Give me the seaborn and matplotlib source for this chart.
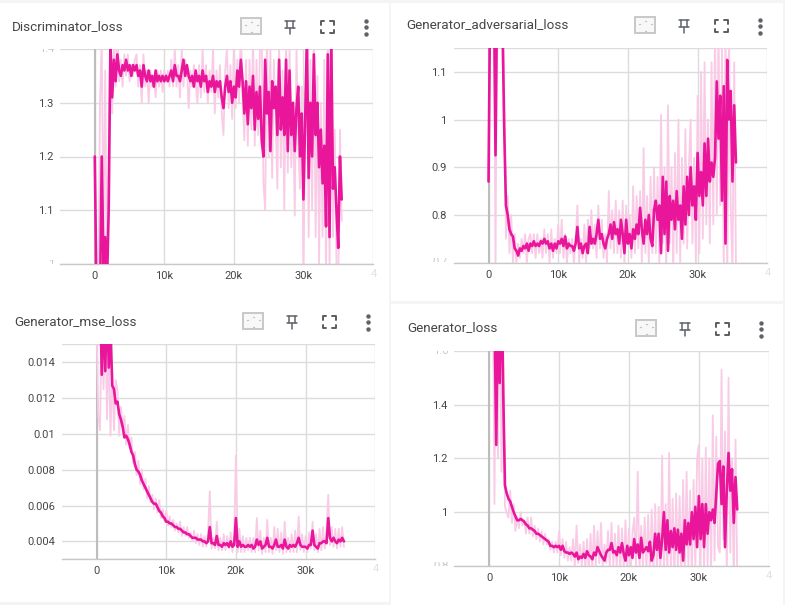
import numpy as np
import matplotlib
matplotlib.use('Agg')
import matplotlib.pyplot as plt
from matplotlib.patches import FancyBboxPatch, Rectangle
from matplotlib.transforms import Bbox
import seaborn as sns

# values, one sample every 250 steps
STEP = 250

disc_smooth = [1.2,0.94,0.9,0.93,1.2,1.0,1.05,0.96,1.1,1.41,1.31,1.38,
    1.34,1.39,1.36,1.35,1.37,1.36,1.38,1.36,1.37,1.35,1.37,1.36,
    1.37,1.35,1.36,1.33,1.37,1.35,1.34,1.36,1.34,1.35,1.33,1.36,
    1.34,1.35,1.34,1.35,1.34,1.35,1.34,1.35,1.36,1.34,1.37,1.35,
    1.35,1.34,1.36,1.38,1.35,1.37,1.35,1.34,1.35,1.33,1.36,1.34,
    1.35,1.33,1.36,1.34,1.35,1.32,1.34,1.33,1.35,1.32,1.34,1.33,
    1.34,1.31,1.29,1.33,1.35,1.32,1.34,1.30,1.33,1.31,1.36,1.33,
    1.38,1.34,1.28,1.34,1.26,1.33,1.29,1.35,1.25,1.32,1.27,1.33,
    1.23,1.2,1.38,1.28,1.32,1.21,1.34,1.29,1.33,1.24,1.38,1.25,
    1.31,1.24,1.38,1.21,1.36,1.24,1.3,1.21,1.29,1.33,1.2,1.28,
    1.12,1.27,1.42,1.16,1.3,1.2,1.39,1.24,1.3,1.18,1.25,1.15,
    1.22,1.07,1.39,1.05,1.42,1.14,1.18,1.1,1.03,1.2,1.12]
disc_raw = [1.2,0.9,0.92,1.3,1.42,1.05,1.36,0.95,1.2,1.45,1.28,1.42,
    1.33,1.43,1.34,1.38,1.33,1.39,1.35,1.39,1.34,1.37,1.35,1.38,
    1.39,1.33,1.37,1.3,1.39,1.33,1.36,1.3,1.36,1.33,1.35,1.31,
    1.36,1.33,1.36,1.32,1.36,1.34,1.36,1.33,1.38,1.33,1.4,1.33,
    1.37,1.31,1.4,1.33,1.38,1.36,1.29,1.36,1.33,1.37,1.34,1.3,
    1.37,1.31,1.4,1.32,1.37,1.3,1.36,1.32,1.4,1.28,1.36,1.31,
    1.37,1.28,1.24,1.36,1.4,1.29,1.37,1.27,1.41,1.29,1.38,1.3,
    1.44,1.31,1.23,1.38,1.22,1.38,1.25,1.42,1.22,1.38,1.24,1.4,
    1.42,1.15,1.1,1.43,1.2,1.4,1.16,1.38,1.27,1.14,1.42,1.18,
    1.36,1.1,1.43,1.17,1.4,1.18,1.3,1.09,1.4,1.22,1.14,1.33,
    0.97,1.3,1.45,1.05,1.38,1.1,1.45,1.05,1.35,1.0,1.3,1.05,
    1.38,0.96,1.45,0.98,1.45,1.05,1.25,1.0,0.95,1.25,1.08]

adv_smooth = [.87,1.3,1.2,1.3,.925,1.3,1.3,1.3,1.2,.98,.82,.8,
    .77,.76,.755,.73,.725,.715,.73,.725,.735,.73,.74,.725,
    .74,.735,.745,.735,.74,.735,.745,.74,.75,.74,.745,.73,
    .74,.725,.74,.73,.745,.74,.75,.735,.755,.73,.74,.735,
    .735,.725,.74,.775,.73,.74,.72,.735,.74,.72,.775,.74,
    .75,.74,.76,.79,.75,.76,.74,.73,.75,.76,.78,.75,
    .785,.76,.77,.74,.79,.76,.72,.79,.74,.76,.73,.77,
    .75,.78,.76,.815,.77,.74,.79,.76,.80,.75,.735,.81,
    .83,.79,.82,.72,.88,.76,.87,.725,.84,.79,.83,.77,
    .85,.79,.82,.75,.86,.78,.88,.80,.90,.82,.86,.79,
    .93,.84,.89,.82,.95,.84,.96,.87,.91,.88,.92,1.08,
    .96,1.05,.83,1.07,.74,1.125,1.0,1.06,.87,1.03,.91]
adv_raw = [.87,1.4,1.3,1.4,.68,1.4,1.3,1.4,1.3,1.05,.75,.84,
    .72,.8,.7,.76,.7,.74,.71,.75,.72,.76,.7,.75,
    .76,.72,.76,.71,.76,.72,.75,.71,.77,.72,.76,.7,
    .77,.71,.75,.72,.78,.72,.79,.71,.76,.7,.75,.72,
    .75,.7,.75,.82,.7,.75,.71,.78,.7,.79,.73,.81,
    .73,.78,.71,.82,.73,.79,.71,.76,.7,.85,.73,.81,
    .72,.83,.72,.81,.71,.83,.7,.82,.74,.8,.71,.86,
    .72,.84,.73,.85,.7,.94,.72,.84,.7,.88,.72,.9,
    .72,.88,.7,1.01,.74,.9,.68,1.03,.74,.9,.68,.93,
    .72,1.0,.7,.92,.74,.98,.73,.9,1.0,.74,.92,.7,
    1.05,.72,1.1,.75,1.12,.78,1.0,.74,1.12,.78,1.2,.8,
    1.2,.82,1.15,.68,1.2,.65,1.2,.82,.68,1.12,.7]

mse_smooth = [.018,.018,.018,.0133,.017,.0135,.018,.0137,.016,.0127,.0125,.0117,
    .0118,.0111,.0108,.0104,.0098,.0099,.0097,.0094,.009,.0088,.0083,.008,
    .0079,.0077,.0074,.0072,.007,.0068,.0066,.0064,.0062,.0061,.0061,.0059,
    .0057,.0056,.0054,.0053,.0051,.0051,.005,.005,.0049,.0048,.0048,.0047,
    .0047,.0046,.0045,.0045,.0044,.0044,.0043,.0042,.0042,.0042,.0041,.0041,
    .0041,.004,.004,.0039,.004,.0048,.0039,.0039,.0038,.0043,.0038,.0038,
    .0037,.0039,.0038,.0039,.0037,.004,.0037,.0038,.0053,.0037,.004,.0037,
    .0038,.0037,.0037,.0038,.0037,.0038,.0036,.0037,.0041,.0038,.004,.0036,
    .0037,.0038,.0042,.0037,.0037,.0036,.0038,.0041,.0037,.0037,.0038,.0036,
    .0041,.0037,.0036,.0038,.0037,.0038,.0037,.0039,.0042,.0038,.0037,.0037,
    .0037,.0036,.0038,.0038,.0046,.0038,.0037,.0036,.0039,.0039,.004,.004,
    .0039,.0053,.0042,.004,.0042,.004,.0039,.0041,.004,.0042,.004]
mse_raw = [.016,.011,.0102,.017,.0125,.0165,.0108,.015,.0099,.0135,.0102,.013,
    .0125,.0099,.0115,.0103,.011,.0094,.0105,.0092,.0098,.0084,.009,.0077,
    .0085,.0072,.008,.0069,.0075,.0064,.0071,.0062,.0066,.0058,.0064,.0056,
    .0063,.0053,.0058,.0051,.0057,.0049,.0054,.0048,.0052,.0046,.005,.0045,
    .0051,.0043,.0048,.0043,.0048,.0042,.0045,.004,.0046,.0039,.0044,.0038,
    .0044,.0037,.0043,.0037,.0045,.0068,.0036,.0042,.0036,.0051,.0035,.0042,
    .0035,.0044,.0035,.0043,.0036,.0045,.0034,.0044,.0088,.0034,.0047,.0034,
    .0043,.0034,.0042,.0035,.0042,.0034,.0042,.0034,.0053,.0035,.0046,.0033,
    .0042,.0034,.0052,.0034,.0042,.0033,.0048,.0035,.0047,.0034,.0045,.0033,
    .0051,.0034,.0042,.0034,.0044,.0034,.0046,.0034,.0054,.0035,.0044,.0034,
    .0043,.0034,.0045,.0036,.0051,.0035,.0044,.0034,.0047,.0035,.0048,.0036,
    .0046,.0066,.0038,.0048,.0037,.0047,.0036,.0047,.0037,.0048,.0037]

gen_smooth = [1.9,1.9,1.9,1.75,1.25,1.8,1.48,1.9,1.45,1.1,1.07,1.05,
    1.04,1.02,1.0,.985,.97,.97,.975,.97,.965,.955,.95,.94,
    .94,.935,.93,.92,.92,.915,.91,.905,.9,.895,.89,.875,
    .875,.87,.875,.87,.875,.86,.875,.855,.85,.85,.845,.85,
    .845,.835,.85,.825,.835,.83,.845,.83,.855,.84,.835,.825,
    .85,.84,.87,.855,.84,.83,.82,.85,.86,.86,.885,.85,
    .855,.84,.87,.85,.885,.845,.82,.875,.84,.87,.83,.9,
    .85,.88,.83,.905,.85,.86,.87,.855,.89,.82,.84,.92,
    .86,.92,.83,.9,1.0,.86,.97,.85,.93,.87,.94,.86,
    .935,.85,.92,.82,.97,.88,.96,.88,1.0,.9,1.02,.87,
    1.06,.9,1.03,.87,1.03,.92,1.0,.97,1.01,.96,1.07,1.18,
    1.19,1.03,1.17,.87,1.08,1.22,1.08,1.16,.96,1.13,1.01]
gen_raw = [1.9,1.9,1.9,1.03,1.9,1.2,1.9,1.15,1.6,1.02,1.0,.98,
    1.08,.96,1.03,.93,.98,.94,1.0,.95,.97,.92,.98,.92,
    .98,.91,.95,.9,.94,.89,.93,.88,.92,.88,.9,.86,
    .89,.85,.89,.85,.93,.84,.9,.83,.89,.82,.87,.82,
    .9,.8,.95,.81,.88,.8,.89,.79,.9,.78,.92,.79,
    .95,.8,.93,.81,.96,.8,.88,.81,.93,.79,.96,.8,
    .92,.79,.95,.78,.94,.78,.97,.79,.94,.77,.92,.98,
    .8,1.15,.78,.95,.79,.98,.78,.99,.77,1.01,.78,1.03,
    .76,1.02,.77,1.21,.76,1.03,.75,1.22,.76,1.05,.74,1.07,
    .78,1.06,.76,1.12,.78,1.15,.8,1.08,.76,1.12,.78,1.2,
    1.25,.8,1.2,.77,1.24,.8,1.2,.76,1.36,.82,1.28,.87,
    .85,1.53,.9,1.3,.75,1.5,.85,1.2,.72,1.27,.76]

x_ticks = [0, 10000, 20000, 30000]
x_labels = ['0', '10k', '20k', '30k']

W, H = 785, 605
PINK = '#E9169B'
PALE = '#F9CBE6'
GRID = '#DCDCDC'
TEXT = '#44474A'

sns.set_theme(style='whitegrid')
plt.rcParams['font.family'] = ['Roboto', 'DejaVu Sans']

fig = plt.figure(figsize=(W / 100, H / 100), dpi=100, facecolor='#F4F4F4')


def px_rect(x0, y0, x1, y1):
    # pixel box (origin top left) to figure fractions
    return [x0 / W, 1 - y1 / H, (x1 - x0) / W, (y1 - y0) / H]


def draw_card(x0, y0, x1, y1):
    fig.add_artist(Rectangle((x0 / W, 1 - y1 / H), (x1 - x0) / W, (y1 - y0) / H,
                             transform=fig.transFigure, fc='white', ec='none', zorder=-5))


def draw_icons(ox, oy):
    # the four header buttons, positions relative to the fit button centre
    def to_fig(x, y):
        return (ox + x) / W, 1 - (oy + y) / H
    x, y = to_fig(-10, -9)
    fig.add_artist(FancyBboxPatch((x, y - 16 / H), 20 / W, 16 / H, transform=fig.transFigure,
                                  boxstyle='round,pad=0', fc='#F8F8F8', ec='#C8C8C8', lw=1.4))
    for dx, dy in [(-6, -2), (6, -2), (0, -5), (0, 5)]:
        px, py = to_fig(dx, dy)
        fig.add_artist(plt.Line2D([px, px + 1.2 / W], [py, py], color='#C4C4C4', lw=1, transform=fig.transFigure))
    # pin
    for (xa, ya), (xb, yb) in [((34, -6), (44, -6)), ((36, -6), (36, 1)), ((42, -6), (42, 1)),
                               ((34, 1), (44, 1)), ((39, 1), (39, 7))]:
        p0, p1 = to_fig(xa, ya), to_fig(xb, yb)
        fig.add_artist(plt.Line2D([p0[0], p1[0]], [p0[1], p1[1]], color='#5F6368', lw=1.1, transform=fig.transFigure))
    # fullscreen corners
    for sx, sy in [(-1, -1), (1, -1), (-1, 1), (1, 1)]:
        cx, cy = 76 + sx * 6.5, sy * 6
        p0, p1, p2 = to_fig(cx - sx * 3.5, cy), to_fig(cx, cy), to_fig(cx, cy - sy * 3.5)
        fig.add_artist(plt.Line2D([p0[0], p1[0], p2[0]], [p0[1], p1[1], p2[1]],
                                  color='#5A5D60', lw=1.4, transform=fig.transFigure))
    # kebab
    for dy in [-6.5, 0, 6.5]:
        p = to_fig(115, dy)
        fig.add_artist(plt.Line2D([p[0]], [p[1]], marker='o', ms=3.2, color='#5F6368', mew=0, transform=fig.transFigure))


def draw_panel(box, title, title_xy, smooth, raw, ylim, yticks, ylabels, icon_xy, faint_y):
    ax = fig.add_axes(px_rect(*box))
    ax.set_facecolor('white')

    steps_raw = np.arange(len(raw)) * STEP
    steps_smooth = np.arange(len(smooth)) * STEP
    ax.axvline(0, color='#BDBDBD', lw=1.5, zorder=1)
    sns.lineplot(x=steps_raw, y=raw, ax=ax, color=PALE, linewidth=1.3, estimator=None, errorbar=None, zorder=2)
    sns.lineplot(x=steps_smooth, y=smooth, ax=ax, color=PINK, linewidth=1.9, estimator=None, errorbar=None, zorder=3)

    ax.set_xlim(-5000, 40000)
    ax.set_ylim(*ylim)
    ax.set_xticks(x_ticks + [40000])
    ax.set_xticklabels(x_labels + [''])
    ax.set_yticks(yticks + list(ylim))
    ax.set_yticklabels(ylabels + ['', ''])
    ax.tick_params(axis='both', length=0, labelsize=8, labelcolor=TEXT, pad=5)
    ax.grid(True, color=GRID, lw=1)
    for s in ['top', 'left', 'right']:
        ax.spines[s].set_visible(False)
    ax.spines['bottom'].set_color('#C8C8C8')
    ax.spines['bottom'].set_linewidth(1)

    fig.text(title_xy[0] / W, 1 - title_xy[1] / H, title, fontsize=9.7, color=TEXT, va='center', ha='left')
    draw_icons(*icon_xy)

    # the 40k tick is cut off at the right edge of the chart in the screenshot
    x0, y0, x1, y1 = box
    fig.text((x1 - 2.5) / W, 1 - (y1 + 10) / H, '4', fontsize=8, color='#E2E2E2', va='center', ha='left')

    # top and bottom y labels are cut off too, only a sliver remains
    for lab, yy, keep in faint_y:
        t = fig.text((x0 - 6) / W, 1 - yy / H, lab, fontsize=8, color='#C8C8C8', va='center', ha='right')
        t.set_clip_box(Bbox([[x0 - 40, H - keep[1]], [x0, H - keep[0]]]))
        t.set_clip_on(True)
    return ax


draw_card(0, 3, 389, 602)
draw_card(391, 3, 783, 301)
draw_card(391, 304, 783, 605)

draw_panel((60, 49, 373, 264), 'Discriminator_loss', (12, 27), disc_smooth, disc_raw,
           (1.0, 1.4), [1.1, 1.2, 1.3], ['1.1', '1.2', '1.3'], (251, 27),
           [('1.4', 49, (49, 52)), ('1', 264, (260, 264))])
draw_panel((453.7, 48, 767.3, 262.7), 'Generator_adversarial_loss', (406.5, 25), adv_smooth, adv_raw,
           (0.7, 1.15), [0.8, 0.9, 1.0, 1.1], ['0.8', '0.9', '1', '1.1'], (645, 26),
           [('0.7', 262, (258, 262))])
draw_panel((61.7, 344.3, 375.3, 559.3), 'Generator_mse_loss', (14.5, 322), mse_smooth, mse_raw,
           (0.003, 0.015), [.004, .006, .008, .01, .012, .014],
           ['0.004', '0.006', '0.008', '0.01', '0.012', '0.014'], (253, 322), [])
draw_panel((454.3, 350.7, 768.7, 566), 'Generator_loss', (407.5, 328), gen_smooth, gen_raw,
           (0.8, 1.6), [1.0, 1.2, 1.4], ['1', '1.2', '1.4'], (646, 329),
           [('1.6', 351, (351, 354)), ('0.8', 566, (562, 566))])

fig.savefig('out.png', dpi=100, facecolor=fig.get_facecolor())
